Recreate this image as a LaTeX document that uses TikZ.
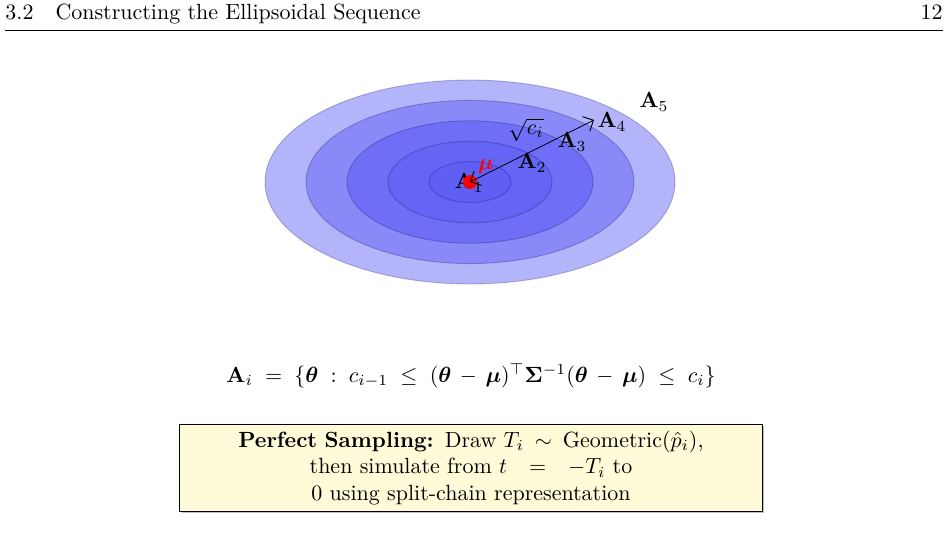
\documentclass[tikz,border=0pt]{standalone}
\usepackage{amsmath}
\usepackage{amssymb}
\usepackage{bm}
\usepackage{tikz}
\usetikzlibrary{arrows.meta,calc,shadows}
\usepackage{xcolor}
\definecolor{boxfill}{RGB}{255,250,215}
\definecolor{lvl5}{RGB}{180,180,250}
\definecolor{lvl4}{RGB}{137,137,248}
\definecolor{lvl3}{RGB}{110,110,246}
\definecolor{lvl2}{RGB}{101,101,245}
\definecolor{lvl1}{RGB}{95,95,243}
\tikzset{
  lvl/.style={draw=blue!30!black, draw opacity=0.25, thin},
  lbl/.style={inner sep=1pt},
  rad/.style={{Straight Barb[length=1.3mm]}-{Straight Barb[length=1.3mm]}, thin},
  note/.style={draw, thin, fill=boxfill, text width=259pt, align=center, inner sep=3pt,
               drop shadow={shadow xshift=0.8pt, shadow yshift=-0.8pt, opacity=0.5}},
}

\begin{document}
\begin{tikzpicture}[x=0.455pt,y=-0.455pt]
  \useasboundingbox (0,0) rectangle (948,545);
  % --- running head ---
  \node[anchor=base west,inner sep=0] (sec) at (5,20) {3.2\quad Constructing the Ellipsoidal Sequence};
  \node[anchor=base east,inner sep=0] (pg) at (943,20) {12};
  \draw[thin] (5,30) -- (943,30);
  % --- nested ellipsoids ---
  \coordinate (mu) at (470,182);
  \foreach \k in {5,4,...,1}{
    \filldraw[lvl,fill=lvl\k] (mu) ellipse ({41*\k} and {20.4*\k});
  }
  \node[lbl] (a1) at (469,183) {$\mathbf{A}_1$};
  \node[lbl] (a2) at (532,163) {$\mathbf{A}_2$};
  \node[lbl] (a3) at (572,142) {$\mathbf{A}_3$};
  \node[lbl] (a4) at (612,122) {$\mathbf{A}_4$};
  \node[lbl] (a5) at (654,102) {$\mathbf{A}_5$};
  \fill[red] (mu) circle (7);
  \coordinate (tip) at (594,120);
  \draw[rad] (mu) -- (tip);
  \node[lbl,text=red] (mulbl) at (486,167) {$\bm{\mu}$};
  \node[lbl] (rc) at (526,130) {$\sqrt{c_i}$};
  % --- definition ---
  \node (defn) at (471,376) {$\mathbf{A}_i \;=\; \{\bm{\theta} \;:\; c_{i-1} \;\le\; (\bm{\theta}\,-\,\bm{\mu})^{\top}\bm{\Sigma}^{-1}(\bm{\theta}\,-\,\bm{\mu}) \;\le\; c_i\}$};
  % --- sampling note ---
  \node[note] (samp) at (471,468) {\textbf{Perfect Sampling:} Draw $T_i$\hspace{0.5em}$\sim$\hspace{0.5em}Geometric$(\hat{p}_i)$,\\
    then simulate from $t$\hspace{1em}$=$\hspace{1em}$-T_i$ to\\
    0 using split-chain representation};
\end{tikzpicture}
\end{document}
